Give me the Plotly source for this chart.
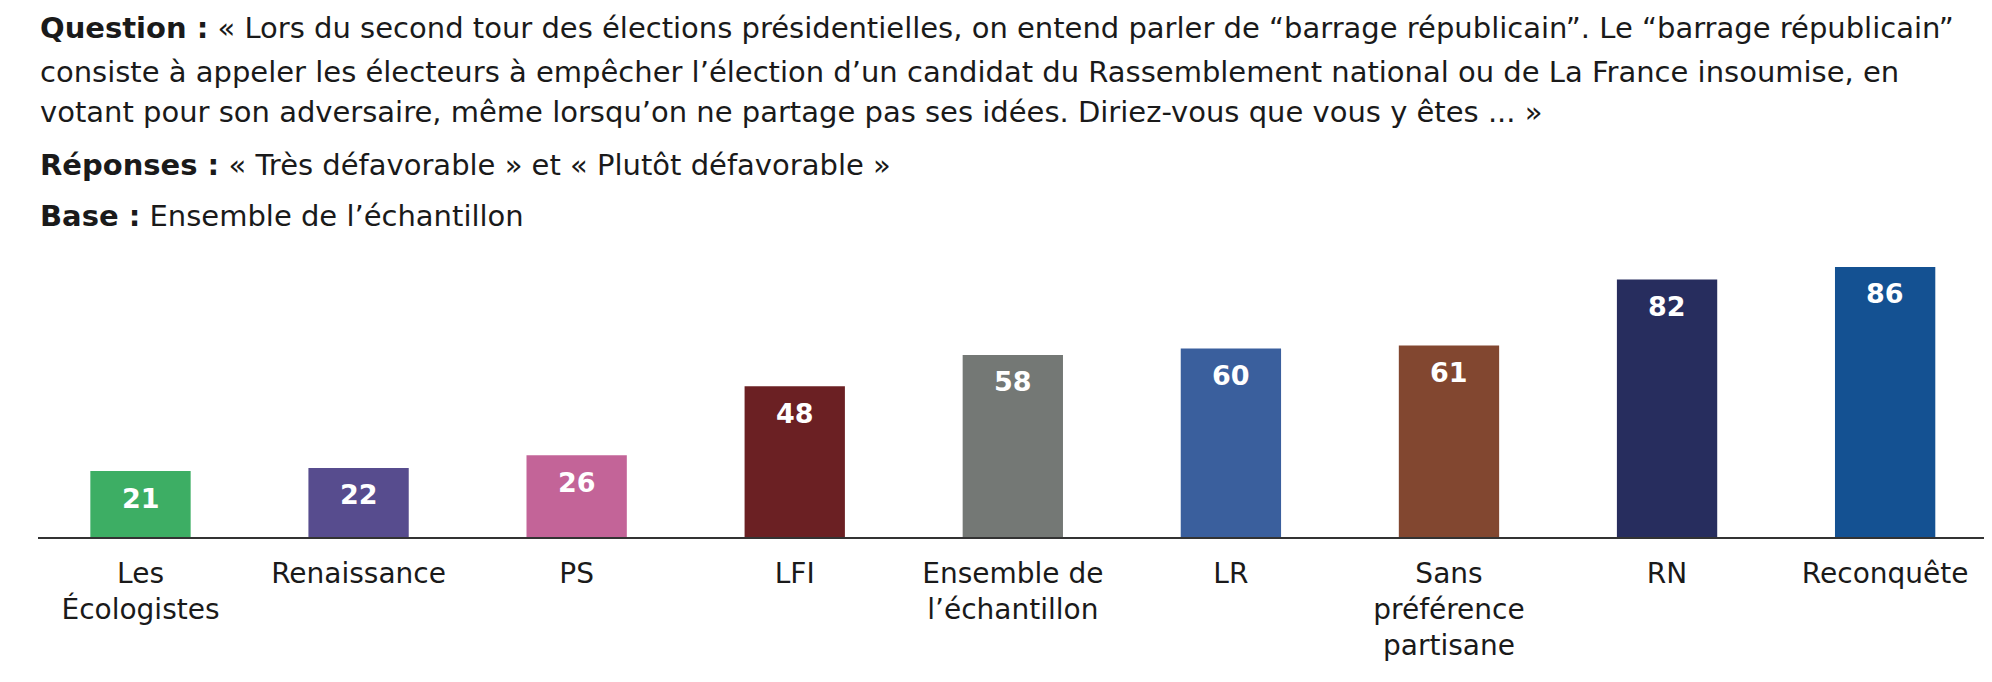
import plotly.graph_objects as go

categories = ["Les<br>Écologistes", "Renaissance", "PS", "LFI", "Ensemble de<br>l’échantillon",
              "LR", "Sans<br>préférence<br>partisane", "RN", "Reconquête"]
values = [21, 22, 26, 48, 58, 60, 61, 82, 86]
colors = ["#3DAE64", "#574C8E", "#C36498", "#6B2023", "#747875",
          "#3A5F9D", "#824730", "#272D5E", "#145192"]

title_lines = [
    "<b>Question :</b> « Lors du second tour des élections présidentielles, on entend parler de “barrage républicain”. Le “barrage républicain”",
    "consiste à appeler les électeurs à empêcher l’élection d’un candidat du Rassemblement national ou de La France insoumise, en",
    "votant pour son adversaire, même lorsqu’on ne partage pas ses idées. Diriez-vous que vous y êtes ... »",
    "<b>Réponses :</b> « Très défavorable » et « Plutôt défavorable »",
    "<b>Base :</b> Ensemble de l’échantillon",
]
title_y_px = [20, 64, 104, 157, 208]

FONT = "DejaVu Sans"
W, H = 1992, 682
mt, mb, ml, mr = 215, 153, 30, 8
ph = H - mt - mb

fig = go.Figure()
fig.add_trace(go.Bar(
    x=list(range(len(categories))), y=values,
    marker=dict(color=colors, line=dict(width=0)),
    width=0.46,
    hoverinfo="skip",
))

annotations = []
for i, v in enumerate(values):
    annotations.append(dict(
        x=i, y=v, xref="x", yref="y", text=f"<b>{v}</b>", showarrow=False,
        yanchor="middle", yshift=-27,
        font=dict(family=FONT, size=27, color="white"),
    ))
for t, ypx in zip(title_lines, title_y_px):
    annotations.append(dict(
        text=t, xref="paper", yref="paper",
        x=0, y=(H - mb - ypx) / ph,
        xanchor="left", yanchor="middle", showarrow=False,
        font=dict(family=FONT, size=29, color="#1a1a1a"), align="left",
    ))

fig.update_layout(
    width=W, height=H,
    margin=dict(l=ml, r=mr, t=mt, b=mb),
    paper_bgcolor="white", plot_bgcolor="white",
    showlegend=False,
    annotations=annotations,
    xaxis=dict(
        tickmode="array", tickvals=list(range(len(categories))), ticktext=categories,
        range=[-0.47, 8.49], showgrid=False, zeroline=False,
        showline=True, linecolor="#333333", linewidth=2,
        ticks="outside", ticklen=10, tickcolor="rgba(0,0,0,0)",
        tickfont=dict(family=FONT, size=28, color="#1a1a1a"),
        fixedrange=True,
    ),
    yaxis=dict(range=[0, 100], visible=False, fixedrange=True),
)

fig.write_html("out.html")
